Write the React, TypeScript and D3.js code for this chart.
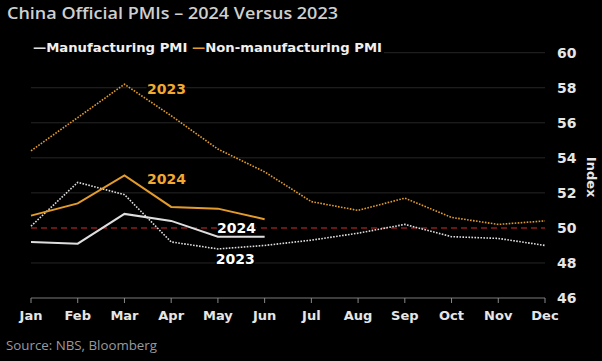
import React from "react";
import * as d3 from "d3";

const months = ["Jan", "Feb", "Mar", "Apr", "May", "Jun", "Jul", "Aug", "Sep", "Oct", "Nov", "Dec"];
const mfg2023 = [50.1, 52.6, 51.9, 49.2, 48.8, 49.0, 49.3, 49.7, 50.2, 49.5, 49.4, 49.0];
const nonMfg2023 = [54.4, 56.3, 58.2, 56.4, 54.5, 53.2, 51.5, 51.0, 51.7, 50.6, 50.2, 50.4];
const mfg2024 = [49.2, 49.1, 50.8, 50.4, 49.5, 49.5];
const nonMfg2024 = [50.7, 51.4, 53.0, 51.2, 51.1, 50.5];
const yTicks = [46, 48, 50, 52, 54, 56, 58, 60];

const W = 602, H = 361;
const ORANGE = "#e39c2b";
const ORANGE_TXT = "#f3a92f";
const WHITE = "#dedede";
const FONT = "'DejaVu Sans', sans-serif";

export default function App() {
  const x = d3.scalePoint<string>().domain(months).range([31, 545]);
  const y = d3.scaleLinear().domain([46, 60]).range([298, 52.7]);
  const line = d3.line<number>().x((_, i) => x(months[i]) as number).y((d) => y(d));
  const step = x.step();

  const labels = [
    { t: "2023", c: ORANGE_TXT, xm: x("Mar")! + step * 0.9, v: 57.93 },
    { t: "2024", c: ORANGE_TXT, xm: x("Mar")! + step * 0.9, v: 52.8 },
    { t: "2024", c: "#ffffff", xm: x("May")! + step * 0.4, v: 49.98 },
    { t: "2023", c: "#ffffff", xm: x("May")! + step * 0.37, v: 48.2 },
  ];

  return (
    <svg width={W} height={H} style={{ position: "absolute", left: 0, top: 0, background: "#000", display: "block" }}>
      <rect x={0} y={0} width={W} height={H} fill="#000" />
      <text x={7} y={18.5} fill="#cfcfcf" fontFamily="'Open Sans', sans-serif" fontWeight={600} fontSize={16.5} textLength={331} lengthAdjust="spacingAndGlyphs">
        China Official PMIs – 2024 Versus 2023
      </text>
      {/* gridlines */}
      {yTicks.filter((v) => v !== 46 && v !== 50).map((v) => (
        <line key={v} x1={31} x2={545} y1={y(v)} y2={y(v)} stroke="#262626" strokeWidth={1} />
      ))}
      {/* legend with black backdrop */}
      <rect x={30} y={38} width={354} height={18} fill="#000" />
      <text x={33} y={51.5} fontFamily={FONT} fontWeight="bold" fontSize={12.8} fill="#f0f0f0" textLength={349} lengthAdjust="spacingAndGlyphs">
        <tspan fill={WHITE}>—</tspan>
        <tspan>Manufacturing PMI </tspan>
        <tspan fill={ORANGE}>—</tspan>
        <tspan>Non-manufacturing PMI</tspan>
      </text>
      {/* reference line at 50 */}
      <line x1={31} x2={545} y1={y(50)} y2={y(50)} stroke="#8a1e1e" strokeWidth={1.5} strokeDasharray="6,4" />
      {/* x axis */}
      <line x1={31} x2={545} y1={y(46)} y2={y(46)} stroke="#7a7a7a" strokeWidth={1} />
      {months.map((m) => (
        <g key={m}>
          <line x1={x(m)} x2={x(m)} y1={y(46)} y2={y(46) + 5} stroke="#8a8a8a" strokeWidth={1} />
          <text x={x(m)} y={320} textAnchor="middle" fontFamily={FONT} fontWeight="bold" fontSize={13} fill="#e6e6e6">{m}</text>
        </g>
      ))}
      {/* y axis labels */}
      {yTicks.map((v) => (
        <text key={v} x={557} y={y(v) + 5} fontFamily={FONT} fontWeight="bold" fontSize={14} fill="#e6e6e6">{v}</text>
      ))}
      <text transform={`translate(587,${y(52.9)}) rotate(90)`} textAnchor="middle" fontFamily={FONT} fontWeight="bold" fontSize={13} fill="#e6e6e6">Index</text>
      {/* lines */}
      <path d={line(nonMfg2023) || ""} fill="none" stroke={ORANGE} strokeWidth={1.6} strokeDasharray="1.6,1.4" />
      <path d={line(mfg2023) || ""} fill="none" stroke={WHITE} strokeWidth={1.6} strokeDasharray="1.6,1.4" />
      <path d={line(nonMfg2024) || ""} fill="none" stroke={ORANGE} strokeWidth={2} />
      <path d={line(mfg2024) || ""} fill="none" stroke={WHITE} strokeWidth={2} />
      {/* annotations */}
      {labels.map((l, i) => (
        <text key={i} x={l.xm} y={y(l.v)} dy="0.36em" textAnchor="middle" fontFamily={FONT} fontWeight="bold" fontSize={14}
          fill={l.c} stroke="#000" strokeWidth={3} paintOrder="stroke" >{l.t}</text>
      ))}
      <text x={6} y={350} fontFamily="'Open Sans', sans-serif" fontSize={13} fill="#9a9a9a" textLength={151} lengthAdjust="spacingAndGlyphs">Source: NBS, Bloomberg</text>
    </svg>
  );
}
